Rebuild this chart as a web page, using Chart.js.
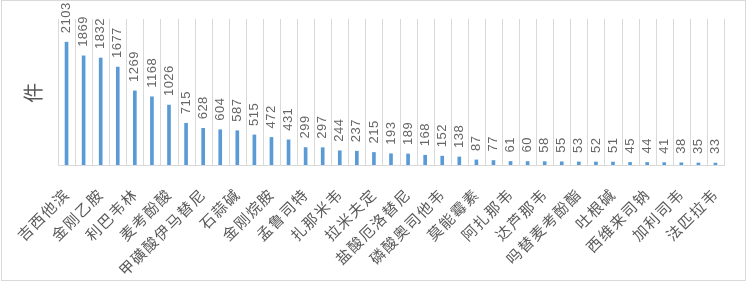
<!DOCTYPE html>
<html>
<head>
<meta charset="utf-8">
<script src="https://cdn.jsdelivr.net/npm/chart.js@4/dist/chart.umd.min.js"></script>
<style>
  body { margin: 0; background: #fff; }
  #wrap { position: relative; width: 747px; height: 282px; }
  #frame { position: absolute; left: 1px; top: 0; width: 743px; height: 279px; border: 1px solid #d9d9d9; pointer-events: none; }
</style>
</head>
<body>
<div id="wrap">
  <canvas id="chart" width="747" height="282"></canvas>
  <div id="frame"></div>
</div>
<script>
// only every other category name is shown on the axis in the original
const drugs = [
  '吉西他滨', '', '金刚乙胺', '', '利巴韦林', '', '麦考酚酸', '', '甲磺酸伊马替尼', '',
  '石蒜碱', '', '金刚烷胺', '', '孟鲁司特', '', '扎那米韦', '', '拉米夫定', '',
  '盐酸厄洛替尼', '', '磷酸奥司他韦', '', '莫能霉素', '', '阿扎那韦', '', '达芦那韦', '',
  '吗替麦考酚酯', '', '吐根碱', '', '西维来司钠', '', '加利司韦', '', '法匹拉韦'
];
const counts = [
  2103, 1869, 1832, 1677, 1269, 1168, 1026, 715, 628, 604,
  587, 515, 472, 431, 299, 297, 244, 237, 215, 193,
  189, 168, 152, 138, 87, 77, 61, 60, 58, 55,
  53, 52, 51, 45, 44, 41, 38, 35, 33
];
const yMax = 2500;

// value labels, rotated to read bottom-to-top above each bar
const valueLabels = {
  id: 'valueLabels',
  afterDatasetsDraw(chart) {
    const ctx = chart.ctx;
    const meta = chart.getDatasetMeta(0);
    ctx.save();
    ctx.letterSpacing = '0.5px';
    ctx.fillStyle = '#666666';
    ctx.font = '13px "Liberation Sans", "DejaVu Sans", sans-serif';
    ctx.textAlign = 'left';
    ctx.textBaseline = 'middle';
    meta.data.forEach((bar, i) => {
      ctx.save();
      ctx.translate(bar.x, bar.y - 9);
      ctx.rotate(-Math.PI / 2);
      ctx.fillText(String(counts[i]), 0, 0);
      ctx.restore();
    });
    ctx.restore();
  }
};

// category separators, like the original's vertical gridlines
const separators = {
  id: 'separators',
  beforeDatasetsDraw(chart) {
    const {ctx, chartArea, scales} = chart;
    const x = scales.x;
    const step = x.getPixelForValue(1) - x.getPixelForValue(0);
    ctx.save();
    ctx.strokeStyle = '#d9d9d9';
    ctx.lineWidth = 1;
    ctx.beginPath();
    for (let i = 0; i <= drugs.length; i++) {
      const px = Math.round(x.getPixelForValue(i) - step / 2) + 0.5;
      ctx.moveTo(px, chartArea.top);
      ctx.lineTo(px, chartArea.bottom);
    }
    ctx.stroke();
    ctx.restore();
  }
};

// wider character spacing on the category names
const spacing = {
  id: 'spacing',
  beforeDraw(chart) { chart.ctx.letterSpacing = '1.5px'; },
  afterDraw(chart) { chart.ctx.letterSpacing = '0px'; }
};

new Chart(document.getElementById('chart'), {
  type: 'bar',
  data: {
    labels: drugs,
    datasets: [{
      data: counts,
      backgroundColor: '#5b9bd5',
      barThickness: 3
    }]
  },
  options: {
    responsive: false,
    animation: false,
    layout: { padding: { left: 14, right: 23, top: 19, bottom: -2 } },
    plugins: { legend: { display: false }, tooltip: { enabled: false } },
    scales: {
      x: {
        grid: { display: false },
        border: { color: '#d9d9d9' },
        ticks: {
          autoSkip: false, maxRotation: 45, minRotation: 45, padding: 12,
          color: '#595959',
          font: { size: 15, family: '"Noto Sans CJK SC", sans-serif' }
        }
      },
      y: {
        min: 0, max: yMax,
        grid: { display: false },
        border: { display: false },
        ticks: { display: false },
        title: {
          display: true, text: '件', color: '#595959',
          font: { size: 20, family: '"Noto Sans CJK SC", sans-serif' },
          padding: { top: 7, bottom: 5 }
        }
      }
    }
  },
  plugins: [spacing, separators, valueLabels]
});
</script>
</body>
</html>
